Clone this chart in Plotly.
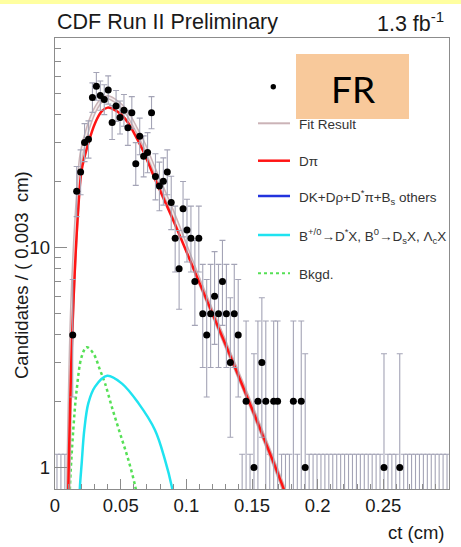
import math
import plotly.graph_objects as go

# ---------------- data ----------------
bin_width = 0.003
counts = [0, 0, 0, 0, 4, 18, 22, 30, 31, 48,
          54, 49, 47, 52, 37, 44, 39, 42, 35, 41,
          24, 32, 26, 27, 41, 21, 19, 20, 22, 16,
          11, 8, 15, 12, 11, 7, 11, 5, 4, 5,
          6, 5, 7, 5, 3, 5, 4, 0, 2, 0,
          1, 2, 3, 2, 0, 2, 2, 0, 0, 0,
          2, 0, 2, 1, 0, 0, 0, 0, 0, 0,
          0, 0, 0, 0, 0, 0, 0, 0, 0, 0,
          0, 0, 0, 1, 0, 0, 0, 1, 0, 0,
          0, 0, 0, 0, 0, 0, 0, 0, 0, 0]

fit_x = [0.0101, 0.0132, 0.0178, 0.0203, 0.0254, 0.0305, 0.0355, 0.0401, 0.0457, 0.0508,
         0.0559, 0.0609, 0.0673, 0.076, 0.09, 0.11, 0.13, 0.15, 0.1744, 0.1765]
fit_y = [0.79, 5.5, 18.2, 26.7, 35.3, 42.2, 46.7, 48.1, 46.4, 43.8,
         40.0, 35.3, 29.7, 22.3, 14.2, 7.0, 3.62, 1.86, 0.79, 0.72]

dpi_x = [0.0101, 0.0132, 0.0178, 0.0203, 0.0254, 0.0305, 0.0355, 0.0401, 0.0457, 0.0508,
         0.0559, 0.0609, 0.0673, 0.076, 0.09, 0.11, 0.13, 0.15, 0.1744, 0.1765]
dpi_y = [0.79, 4.2, 15.3, 22.5, 29.8, 36.7, 41.5, 43.2, 42.1, 40.0,
         36.7, 32.5, 27.3, 20.5, 13.3, 6.9, 3.6, 1.85, 0.79, 0.72]

bdx_x = [0.0187, 0.019, 0.0203, 0.0223, 0.0254, 0.0305, 0.0398, 0.0508, 0.0635, 0.0761, 0.0838, 0.0889, 0.0905]
bdx_y = [0.7, 0.82, 1.04, 1.48, 1.96, 2.33, 2.61, 2.41, 1.96, 1.48, 1.08, 0.82, 0.72]

bkg_x = [0.0112, 0.0114, 0.0139, 0.0165, 0.0203, 0.0241, 0.0292, 0.0343, 0.0381, 0.0432, 0.0495, 0.0559, 0.0609, 0.0625]
bkg_y = [0.7, 0.82, 1.48, 2.25, 3.19, 3.52, 3.30, 2.77, 2.41, 1.89, 1.43, 1.08, 0.83, 0.74]

x_tickvals = [0, 0.05, 0.1, 0.15, 0.2, 0.25, 0.3]
x_ticktext = ["0", "0.05", "0.1", "0.15", "0.2", "0.25", "0.3"]
x_minor = [0.01, 0.02, 0.03, 0.04, 0.06, 0.07, 0.08, 0.09, 0.11, 0.12, 0.13, 0.14,
           0.16, 0.17, 0.18, 0.19, 0.21, 0.22, 0.23, 0.24, 0.26, 0.27, 0.28, 0.29]
y_tickvals = [1, 10]
y_ticktext = ["1", "10"]
y_minor = [2, 3, 4, 5, 6, 7, 8, 9, 20, 30, 40, 50, 60, 70, 80]

# ---------------- Poisson (Garwood) intervals ----------------
def poisson_interval(n):
    if n == 0:
        return 0.0, -math.log(1 - 0.6827)
    lo = n * (1 - 1 / (9 * n) - 1 / (3 * math.sqrt(n))) ** 3
    m = n + 1
    hi = m * (1 - 1 / (9 * m) + 1 / (3 * math.sqrt(m))) ** 3
    return lo, hi

centers = [round((i + 0.5) * bin_width, 5) for i in range(len(counts))]
px, py, pup, pdn = [], [], [], []
zx, zy, zdn = [], [], []
for c, n in zip(centers, counts):
    lo, hi = poisson_interval(n)
    if n > 0:
        px.append(c); py.append(n); pup.append(hi - n); pdn.append(n - lo)
    else:
        zx.append(c); zy.append(hi); zdn.append(hi - 0.001)

ERRCOL = "#a4a4b6"

fig = go.Figure()

# zero bins (upper limit bars)
fig.add_trace(go.Scatter(
    x=zx, y=zy, mode="markers", marker=dict(size=1, opacity=0),
    error_y=dict(type="data", symmetric=False, array=[0] * len(zx), arrayminus=zdn,
                 color=ERRCOL, thickness=1.1, width=3),
    showlegend=False, hoverinfo="skip"))

# components
fig.add_trace(go.Scatter(x=bkg_x, y=bkg_y, mode="lines",
                         line=dict(color="#55e055", width=2.5, dash="dot", shape="spline"),
                         showlegend=False))
fig.add_trace(go.Scatter(x=bdx_x, y=bdx_y, mode="lines",
                         line=dict(color="#1fe3f0", width=2.5, shape="spline"),
                         showlegend=False))
# total fit (double pale line)
fig.add_trace(go.Scatter(x=fit_x, y=fit_y, mode="lines",
                         line=dict(color="#cbb3b7", width=4.5, shape="spline"),
                         showlegend=False))
fig.add_trace(go.Scatter(x=fit_x, y=fit_y, mode="lines",
                         line=dict(color="#f4eeee", width=1.5, shape="spline"),
                         showlegend=False))
fig.add_trace(go.Scatter(x=dpi_x, y=dpi_y, mode="lines",
                         line=dict(color="#ff1414", width=2.5, shape="spline"),
                         showlegend=False))

# data points
fig.add_trace(go.Scatter(
    x=px, y=py, mode="markers", marker=dict(size=7, color="black"),
    error_y=dict(type="data", symmetric=False, array=pup, arrayminus=pdn,
                 color=ERRCOL, thickness=1.1, width=3),
    showlegend=False))

# ---------------- layout helpers (pixel -> paper) ----------------
L, R, T, B = 55, 12, 38, 58
W, H = 461, 547
PW, PH = W - L - R, H - T - B

def xp(p):
    return (p - L) / PW

def yp(p):
    return (H - B - p) / PH

shapes = []
annotations = []

# yellow strip on top of the slide
shapes.append(dict(type="rect", xref="paper", yref="paper", x0=xp(0), x1=xp(W),
                   y0=yp(0), y1=yp(4), fillcolor="#ffffa0", line=dict(width=0), layer="below"))

# legend
leg_x0, leg_x1, txt_x = 258, 290, 297
shapes.append(dict(type="circle", xref="paper", yref="paper",
                   x0=xp(273.3 - 2.7), x1=xp(273.3 + 2.7), y0=yp(86.7 + 2.7), y1=yp(86.7 - 2.7),
                   fillcolor="black", line=dict(width=0), layer="above"))
legend_items = [
    (123.3, "#cbb3b7", "solid", 2, "Fit Result"),
    (160.7, "#ff1414", "solid", 2.5, "Dπ"),
    (196.0, "#2233dd", "solid", 2.5, "DK+Dρ+D<sup>*</sup>π+B<sub>s</sub> others"),
    (235.0, "#1fe3f0", "solid", 2.5, "B<sup>+/0</sup>→D<sup>*</sup>X, B<sup>0</sup>→D<sub>s</sub>X, Λ<sub>c</sub>X"),
    (273.3, "#55e055", "dot", 2, "Bkgd."),
]
for yy, col, dash, wd, label in legend_items:
    shapes.append(dict(type="line", xref="paper", yref="paper", x0=xp(leg_x0), x1=xp(leg_x1),
                       y0=yp(yy), y1=yp(yy), line=dict(color=col, width=wd, dash=dash), layer="above"))
    annotations.append(dict(xref="paper", yref="paper", x=xp(txt_x), y=yp(yy + 1), text=label,
                            showarrow=False, xanchor="left", yanchor="middle",
                            font=dict(family="Liberation Sans, Arial", size=13.5, color="#333333")))

# FR box
shapes.append(dict(type="rect", xref="paper", yref="paper", x0=xp(296), x1=xp(409),
                   y0=yp(119), y1=yp(54), fillcolor="#f8c99b", line=dict(width=0), layer="above"))
annotations.append(dict(xref="paper", yref="paper", x=xp(352.5), y=yp(88), text="FR",
                        showarrow=False, xanchor="center", yanchor="middle",
                        font=dict(family="Lato, Noto Sans", size=37, color="black")))

# titles
annotations.append(dict(xref="paper", yref="paper", x=xp(55), y=yp(22), text="CDF Run II Preliminary",
                        showarrow=False, xanchor="left", yanchor="middle",
                        font=dict(family="Liberation Sans, Arial", size=21.5, color="#1a1a1a")))
annotations.append(dict(xref="paper", yref="paper", x=xp(446), y=yp(22), text="1.3 fb<sup>-1</sup>",
                        showarrow=False, xanchor="right", yanchor="middle",
                        font=dict(family="Liberation Sans, Arial", size=21.5, color="#1a1a1a")))
annotations.append(dict(xref="paper", yref="paper", x=xp(447), y=yp(532), text="ct (cm)",
                        showarrow=False, xanchor="right", yanchor="middle",
                        font=dict(family="Liberation Sans, Arial", size=18.5, color="#1a1a1a")))
annotations.append(dict(xref="paper", yref="paper", x=xp(21), y=yp(275), text="Candidates / ( 0.003  cm)",
                        showarrow=False, xanchor="center", yanchor="middle", textangle=-90,
                        font=dict(family="Liberation Sans, Arial", size=18.5, color="#1a1a1a")))

AXCOL = "#8c8c8c"
fig.update_layout(
    width=W, height=H, autosize=False,
    margin=dict(l=L, r=R, t=T, b=B, pad=0),
    paper_bgcolor="white", plot_bgcolor="white",
    showlegend=False,
    shapes=shapes, annotations=annotations,
    xaxis=dict(range=[0, 0.3], tickmode="array", tickvals=x_tickvals, ticktext=x_ticktext,
               ticks="inside", ticklen=10, tickcolor=AXCOL, tickwidth=1,
               minor=dict(tickmode="array", tickvals=x_minor, ticks="inside", ticklen=5, tickcolor=AXCOL),
               showgrid=False, zeroline=False, showline=True, linecolor=AXCOL, linewidth=1.3,
               mirror=True, tickfont=dict(family="Liberation Sans, Arial", size=18.5, color="#1a1a1a")),
    yaxis=dict(type="log", range=[-0.098, 1.952], tickmode="array", tickvals=y_tickvals,
               ticktext=y_ticktext, ticks="inside", ticklen=12, tickcolor=AXCOL, tickwidth=1,
               minor=dict(tickmode="array", tickvals=y_minor, ticks="inside", ticklen=6, tickcolor=AXCOL),
               showgrid=False, zeroline=False, showline=True, linecolor=AXCOL, linewidth=1.3,
               mirror=True, tickfont=dict(family="Liberation Sans, Arial", size=18.5, color="#1a1a1a")),
)

fig.write_html("out.html")
